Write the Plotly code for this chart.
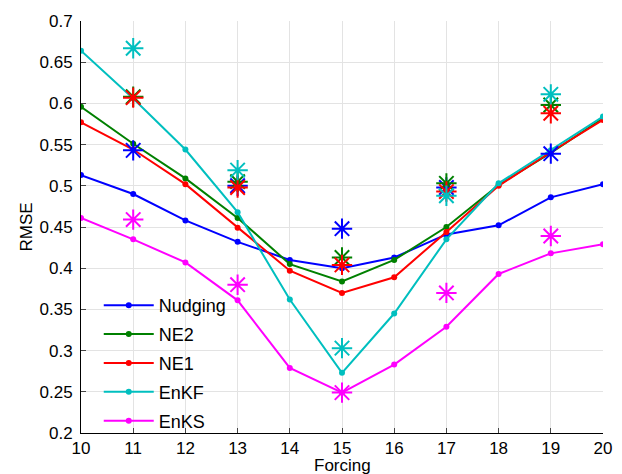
import plotly.graph_objects as go

forcing = [10, 11, 12, 13, 14, 15, 16, 17, 18, 19, 20]
nudging = [0.513, 0.490, 0.458, 0.432, 0.410, 0.400, 0.413, 0.441, 0.452, 0.486, 0.502]
ne2 = [0.596, 0.551, 0.509, 0.461, 0.405, 0.384, 0.410, 0.450, 0.501, 0.540, 0.582]
ne1 = [0.577, 0.544, 0.502, 0.449, 0.397, 0.370, 0.389, 0.444, 0.500, 0.541, 0.580]
enkf = [0.664, 0.606, 0.544, 0.468, 0.362, 0.273, 0.345, 0.435, 0.503, 0.543, 0.584]
enks = [0.461, 0.435, 0.407, 0.361, 0.279, 0.249, 0.283, 0.329, 0.393, 0.418, 0.429]

star_x = [11, 13, 15, 17, 19]
nudging_star = [0.543, 0.500, 0.448, 0.498, 0.539]
ne2_star = [0.608, 0.505, 0.413, 0.503, 0.598]
ne1_star = [0.607, 0.498, 0.404, 0.493, 0.588]
enkf_star = [0.667, 0.519, 0.303, 0.488, 0.611]
enks_star = [0.459, 0.380, 0.249, 0.370, 0.439]

names = ["Nudging", "NE2", "NE1", "EnKF", "EnKS"]
colors = ["#0000FF", "#008000", "#FF0000", "#00BFBF", "#FF00FF"]
lines = [nudging, ne2, ne1, enkf, enks]
stars = [nudging_star, ne2_star, ne1_star, enkf_star, enks_star]

y_ticks = [0.2, 0.25, 0.3, 0.35, 0.4, 0.45, 0.5, 0.55, 0.6, 0.65, 0.7]
y_ticktext = ["0.2", "0.25", "0.3", "0.35", "0.4", "0.45", "0.5", "0.55", "0.6", "0.65", "0.7"]

fig = go.Figure()
for n, c, ys in zip(names, colors, lines):
    fig.add_trace(go.Scatter(x=forcing, y=ys, name=n, mode="lines+markers",
                             legendgroup=n,
                             line=dict(color=c, width=2),
                             marker=dict(color=c, size=6, symbol="circle")))
for n, c, ys in zip(names, colors, stars):
    fig.add_trace(go.Scatter(x=star_x, y=ys, name=n + " *", mode="markers", showlegend=False,
                             marker=dict(color=c, size=17, symbol="asterisk-open",
                                         line=dict(color=c, width=2))))

font = dict(family="Liberation Sans, Arial, sans-serif", size=17, color="#000000")
fig.update_layout(
    width=614, height=466,
    margin=dict(l=73, r=19, t=13, b=41),
    paper_bgcolor="white", plot_bgcolor="white",
    font=font,
    legend=dict(x=0.034, y=-0.0144, xanchor="left", yanchor="bottom",
                bgcolor="rgba(0,0,0,0)", font=dict(size=18), tracegroupgap=2.5,
                itemwidth=50),
    xaxis=dict(range=[10, 20], tickvals=forcing, ticks="inside", ticklen=5,
               automargin=False,
               showline=True, linecolor="#000000", linewidth=1,
               showgrid=True, gridcolor="#E3E3E3", gridwidth=1, zeroline=False),
    yaxis=dict(range=[0.2, 0.7], tickvals=y_ticks, ticktext=y_ticktext,
               ticks="inside", ticklen=5, automargin=False, ticklabelstandoff=4,
               showline=True, linecolor="#000000", linewidth=1,
               showgrid=True, gridcolor="#E3E3E3", gridwidth=1, zeroline=False),
    annotations=[
        dict(text="Forcing", xref="paper", yref="paper", x=0.5, y=-0.052,
             xanchor="center", yanchor="top", showarrow=False, font=font),
        dict(text="RMSE", xref="paper", yref="paper", x=-0.1063, y=0.5,
             xanchor="center", yanchor="middle", textangle=-90, showarrow=False, font=font),
    ],
)
fig.write_html("out.html")
